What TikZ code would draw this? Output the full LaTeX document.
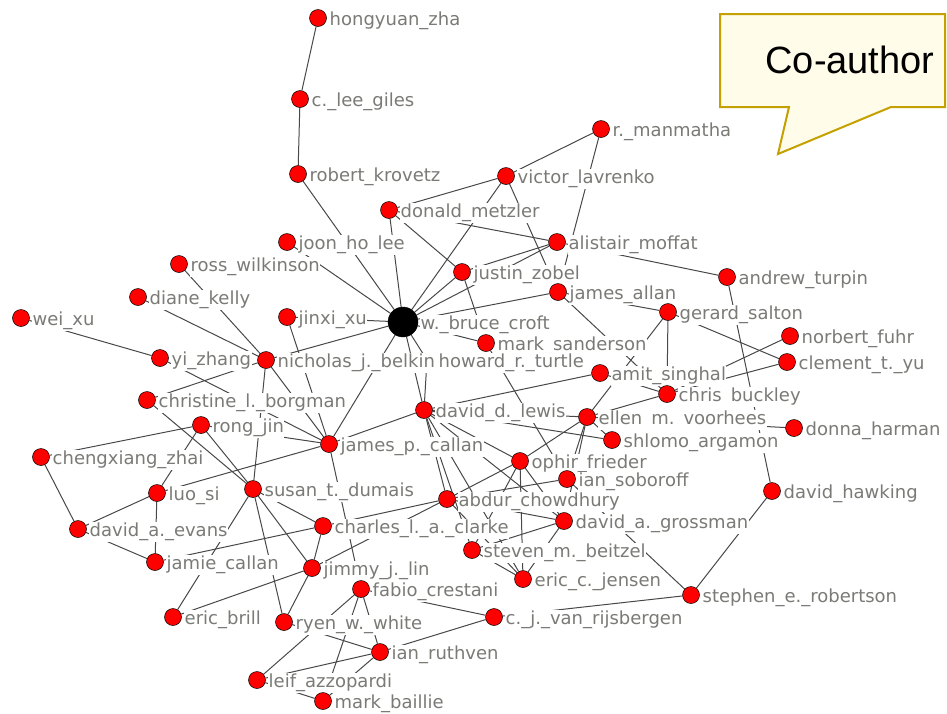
\documentclass[tikz,border=0pt]{standalone}
\usepackage{fontspec}
\newfontfamily\lblfont{DejaVu Sans}
\newfontfamily\calloutfont{Liberation Sans}
\pgfdeclarelayer{edgelayer}
\pgfdeclarelayer{labellayer}
\pgfsetlayers{edgelayer,labellayer,main}
\definecolor{lblgray}{RGB}{122,122,118}
\definecolor{linkgray}{RGB}{72,72,72}
\definecolor{calloutborder}{RGB}{196,160,0}
\definecolor{calloutfill}{RGB}{255,252,234}
\tikzset{
  person/.style={circle, fill=red, draw=black, line width=0.5pt, minimum size=17pt, inner sep=0pt},
  hub/.style={circle, fill=black, draw=black, minimum size=30pt, inner sep=0pt},
  lbl/.style={anchor=base west, fill=white, text=lblgray, inner sep=0.5pt,
              font=\lblfont\fontsize{18}{20}\selectfont, text height=13.5pt, text depth=5pt},
  link/.style={draw=linkgray, line width=1pt},
  callout/.style={draw=calloutborder, fill=calloutfill, line width=2pt, line join=miter},
}
% a researcher: red dot with its name to the right
\newcommand\addperson[4]{%
  \node[person] (#1) at (#2,#3) {};
  \begin{pgfonlayer}{labellayer}
    \node[lbl] (#1-l) at (#2+11,#3+7) {#4};
  \end{pgfonlayer}}
\newcommand\gap{\hspace{0.5em}}
\begin{document}
\begin{tikzpicture}[x=1pt,y=-1pt]
\useasboundingbox (0,0) rectangle (947,713);

% speech bubble
\draw[callout] (720,14) -- (945,14) -- (945,107) -- (891,107) -- (778,154) -- (789,107) -- (720,107) -- cycle;
\node[anchor=base, font=\calloutfont\fontsize{38}{40}\selectfont] (callouttext) at (850,73) {Co-author};

% researchers
\addperson{hz}{318}{18}{hongyuan\_zha}
\addperson{clg}{300}{99}{c.\_lee\_giles}
\addperson{rk}{298}{174}{robert\_krovetz}
\addperson{rm}{601}{129}{r.\_manmatha}
\addperson{vl}{506}{176}{victor\_lavrenko}
\addperson{dm}{389}{210}{donald\_metzler}
\addperson{am}{557}{242}{alistair\_moffat}
\addperson{jhl}{287}{242}{joon\_ho\_lee}
\addperson{jz}{462}{272}{justin\_zobel}
\addperson{rw}{179}{264}{ross\_wilkinson}
\addperson{at}{727}{277}{andrew\_turpin}
\addperson{ja}{558}{292}{james\_allan}
\addperson{dk}{138}{297}{diane\_kelly}
\addperson{wx}{21}{318}{wei\_xu}
\addperson{jx}{287}{317}{jinxi\_xu}
\addperson{gs}{668}{312}{gerard\_salton}
\addperson{ms}{486}{343}{mark\_sanderson}
\addperson{nf}{790}{336}{norbert\_fuhr}
\addperson{yz}{160}{358}{yi\_zhang}
\addperson{njb}{266}{360}{nicholas\_j.\_belkin}
\addperson{cty}{787}{362}{clement\_t.\_yu}
\addperson{asg}{600}{373}{amit\_singhal}
\addperson{cb}{667}{394}{chris\gap buckley}
\addperson{clb}{147}{400}{christine\_l.\_borgman}
\addperson{ddl}{424}{410}{david\_d.\_lewis}
\addperson{emv}{587}{417}{ellen\gap m.\gap voorhees}
\addperson{rj}{201}{425}{rong\_jin}
\addperson{dh}{794}{428}{donna\_harman}
\addperson{sa}{612}{440}{shlomo\_argamon}
\addperson{jpc}{329}{444}{james\_p.\_callan}
\addperson{cz}{41}{457}{chengxiang\_zhai}
\addperson{of}{520}{461}{ophir\_frieder}
\addperson{isb}{567}{479}{ian\_soboroff}
\addperson{std}{253}{489}{susan\_t.\_dumais}
\addperson{ls}{157}{493}{luo\_si}
\addperson{dhk}{772}{491}{david\_hawking}
\addperson{ac}{447}{499}{abdur\_chowdhury}
\addperson{dae}{78}{529}{david\_a.\_evans}
\addperson{clac}{323}{526}{charles\_l.\_a.\_clarke}
\addperson{dag}{564}{521}{david\_a.\_grossman}
\addperson{smb}{472}{550}{steven\_m.\_beitzel}
\addperson{jc}{155}{562}{jamie\_callan}
\addperson{jjl}{312}{568}{jimmy\_j.\_lin}
\addperson{ecj}{523}{579}{eric\_c.\_jensen}
\addperson{fc}{361}{589}{fabio\_crestani}
\addperson{ser}{691}{595}{stephen\_e.\_robertson}
\addperson{eb}{173}{617}{eric\_brill}
\addperson{cjvr}{494}{617}{c.\_j.\_van\_rijsbergen}
\addperson{rww}{284}{622}{ryen\_w.\_white}
\addperson{ir}{380}{652}{ian\_ruthven}
\addperson{la}{257}{680}{leif\_azzopardi}
\addperson{mb}{323}{701}{mark\_baillie}

% the central author, drawn larger and in black
\node[hub] (wbc) at (403,322) {};
\begin{pgfonlayer}{labellayer}
  \node[lbl] (wbc-l) at (420,329) {w.\_bruce\_croft};
\end{pgfonlayer}

% howard's dot lies under the neighbouring name
\coordinate (hrt) at (427,360);
\begin{pgfonlayer}{labellayer}
  \node[lbl] (hrt-l) at (438,367) {howard\_r.\_turtle};
\end{pgfonlayer}

% co-author links
\begin{pgfonlayer}{edgelayer}
\foreach \a/\b in {hz/clg, clg/rk, rk/wbc, dm/vl, dm/am, dm/jz, dm/wbc, vl/wbc, vl/rm, vl/ja, rm/ja,
  jhl/wbc, jx/wbc, wbc/jz, wbc/am, wbc/ja, wbc/ms, wbc/njb, wbc/jpc, wbc/ddl, wbc/hrt,
  am/jz, am/at, jz/ms, ja/gs, ja/cb, gs/cb, gs/cty, gs/emv, nf/cb, cty/cb, asg/cb, asg/ddl,
  emv/cb, emv/dh, emv/sa, emv/of, emv/isb, emv/dag, emv/ddl, ddl/sa, ddl/of, ddl/dag, ddl/ac,
  ddl/smb, ddl/ecj, hrt/ddl, ms/isb, isb/ser, at/dhk, dhk/ser, ser/cjvr,
  of/ac, of/smb, of/ecj, of/dag, ac/isb, ac/dag, ac/ecj, smb/dag, smb/ecj, dag/ecj,
  jjl/ac, clac/ac, jpc/ddl, jpc/fc, jpc/ls, jpc/rj, jpc/yz, jpc/njb, jpc/jx,
  njb/rw, njb/dk, njb/clb, njb/std, wx/yz, clb/std, rj/cz, rj/ls, rj/std,
  cz/dae, ls/dae, ls/jc, dae/jc, std/clac, std/jjl, std/rww, std/eb,
  clac/jc, clac/jjl, jjl/rww, jjl/eb, rww/ir, fc/la, fc/ir, fc/mb, fc/cjvr,
  la/mb, la/ir, mb/ir, ir/cjvr}
  \draw[link] (\a) -- (\b);
\end{pgfonlayer}
\end{tikzpicture}
\end{document}
